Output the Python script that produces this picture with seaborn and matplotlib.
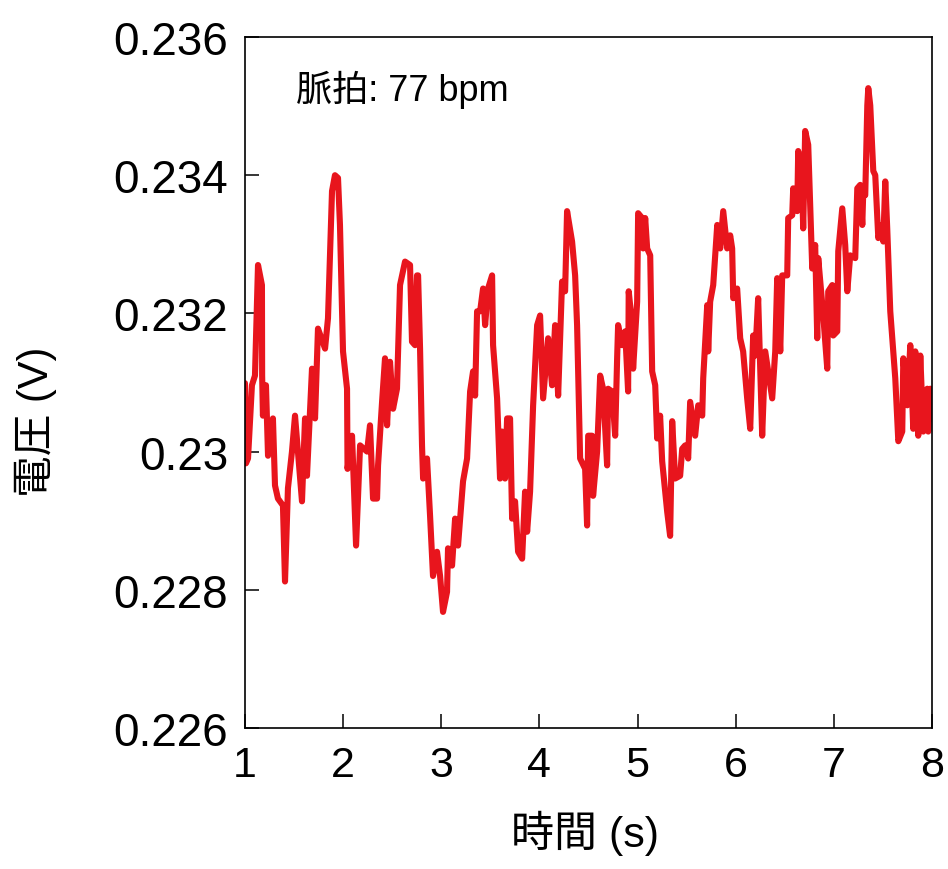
import numpy as np
import pandas as pd
import seaborn as sns
import matplotlib.pyplot as plt

# 読み取った波形 (時間 s, 電圧 V)
time_s = [
    1.000, 1.010, 1.031, 1.071, 1.102, 1.133, 1.173, 1.175, 1.183, 1.214,
    1.235, 1.275, 1.285, 1.306, 1.336, 1.387, 1.408, 1.438, 1.479, 1.510,
    1.581, 1.612, 1.632, 1.683, 1.714, 1.744, 1.816, 1.846, 1.887, 1.917,
    1.948, 1.968, 1.999, 2.040, 2.045, 2.091, 2.132, 2.173, 2.244, 2.274,
    2.305, 2.346, 2.356, 2.397, 2.427, 2.448, 2.478, 2.509, 2.549, 2.580,
    2.631, 2.682, 2.702, 2.733, 2.753, 2.764, 2.784, 2.804, 2.815, 2.855,
    2.886, 2.916, 2.957, 2.988, 3.018, 3.059, 3.069, 3.110, 3.141, 3.171,
    3.222, 3.263, 3.294, 3.324, 3.345, 3.365, 3.396, 3.426, 3.447, 3.477,
    3.518, 3.528, 3.569, 3.599, 3.620, 3.650, 3.671, 3.701, 3.722, 3.752,
    3.783, 3.824, 3.854, 3.875, 3.905, 3.936, 3.977, 4.007, 4.038, 4.089,
    4.129, 4.160, 4.191, 4.231, 4.262, 4.282, 4.333, 4.364, 4.384, 4.415,
    4.466, 4.486, 4.497, 4.537, 4.547, 4.588, 4.619, 4.649, 4.690, 4.700,
    4.741, 4.772, 4.792, 4.802, 4.843, 4.874, 4.904, 4.910, 4.945, 4.955,
    4.996, 5.006, 5.047, 5.057, 5.078, 5.098, 5.129, 5.149, 5.180, 5.200,
    5.230, 5.251, 5.302, 5.332, 5.353, 5.383, 5.434, 5.455, 5.485, 5.516,
    5.536, 5.587, 5.618, 5.659, 5.669, 5.710, 5.720, 5.740, 5.771, 5.812,
    5.842, 5.862, 5.873, 5.913, 5.944, 5.964, 5.975, 6.015, 6.046, 6.076,
    6.117, 6.148, 6.178, 6.199, 6.229, 6.270, 6.301, 6.372, 6.403, 6.423,
    6.454, 6.474, 6.525, 6.535, 6.576, 6.586, 6.627, 6.637, 6.678, 6.688,
    6.708, 6.739, 6.780, 6.810, 6.831, 6.841, 6.892, 6.933, 6.943, 6.984,
    6.994, 7.035, 7.045, 7.086, 7.116, 7.137, 7.167, 7.218, 7.239, 7.269,
    7.290, 7.300, 7.320, 7.341, 7.351, 7.371, 7.402, 7.422, 7.453, 7.493,
    7.504, 7.524, 7.544, 7.575, 7.626, 7.657, 7.697, 7.708, 7.748, 7.779,
    7.809, 7.830, 7.860, 7.881, 7.911, 7.952, 7.962, 7.983, 8.000,
]
voltage_v = [
    0.23099, 0.22983, 0.22990, 0.23096, 0.23110, 0.23270, 0.23241, 0.23110, 0.23052, 0.23096,
    0.22994, 0.23038, 0.23048, 0.22951, 0.22932, 0.22922, 0.22812, 0.22947, 0.23000, 0.23052,
    0.22928, 0.23048, 0.22965, 0.23120, 0.23048, 0.23178, 0.23149, 0.23193, 0.23377, 0.23400,
    0.23396, 0.23328, 0.23145, 0.23091, 0.22975, 0.23023, 0.22864, 0.23009, 0.23000, 0.23038,
    0.22932, 0.22932, 0.22980, 0.23072, 0.23135, 0.23038, 0.23130, 0.23062, 0.23091, 0.23241,
    0.23275, 0.23270, 0.23159, 0.23154, 0.23255, 0.23255, 0.23149, 0.23009, 0.22961, 0.22990,
    0.22907, 0.22820, 0.22855, 0.22820, 0.22768, 0.22797, 0.22860, 0.22835, 0.22903, 0.22864,
    0.22957, 0.22990, 0.23087, 0.23116, 0.23081, 0.23203, 0.23203, 0.23236, 0.23183, 0.23236,
    0.23255, 0.23154, 0.23077, 0.22961, 0.23029, 0.22961, 0.23048, 0.23048, 0.22903, 0.22928,
    0.22855, 0.22845, 0.22942, 0.22884, 0.22942, 0.23067, 0.23183, 0.23197, 0.23077, 0.23164,
    0.23096, 0.23183, 0.23081, 0.23246, 0.23232, 0.23348, 0.23304, 0.23255, 0.23183, 0.22990,
    0.22975, 0.22893, 0.23023, 0.23023, 0.22936, 0.23000, 0.23110, 0.23091, 0.22980, 0.23091,
    0.23087, 0.23023, 0.23135, 0.23183, 0.23154, 0.23174, 0.23087, 0.23232, 0.23183, 0.23120,
    0.23217, 0.23345, 0.23338, 0.23294, 0.23338, 0.23294, 0.23284, 0.23116, 0.23096, 0.23019,
    0.23052, 0.22986, 0.22913, 0.22878, 0.23044, 0.22961, 0.22965, 0.23004, 0.23009, 0.22990,
    0.23072, 0.23023, 0.23067, 0.23052, 0.23106, 0.23212, 0.23145, 0.23217, 0.23241, 0.23328,
    0.23294, 0.23328, 0.23348, 0.23294, 0.23313, 0.23294, 0.23222, 0.23236, 0.23164, 0.23145,
    0.23077, 0.23033, 0.23168, 0.23139, 0.23222, 0.23023, 0.23145, 0.23077, 0.23145, 0.23251,
    0.23145, 0.23255, 0.23255, 0.23338, 0.23342, 0.23381, 0.23348, 0.23435, 0.23377, 0.23323,
    0.23464, 0.23444, 0.23265, 0.23299, 0.23164, 0.23280, 0.23197, 0.23120, 0.23232, 0.23241,
    0.23168, 0.23174, 0.23290, 0.23352, 0.23299, 0.23232, 0.23284, 0.23280, 0.23381, 0.23386,
    0.23328, 0.23377, 0.23371, 0.23501, 0.23526, 0.23501, 0.23406, 0.23400, 0.23309, 0.23328,
    0.23304, 0.23391, 0.23323, 0.23203, 0.23106, 0.23015, 0.23029, 0.23135, 0.23067, 0.23154,
    0.23033, 0.23145, 0.23023, 0.23139, 0.23029, 0.23091, 0.23029, 0.23091, 0.23048,
]
x_ticks = [1, 2, 3, 4, 5, 6, 7, 8]
y_ticks = [0.226, 0.228, 0.23, 0.232, 0.234, 0.236]
y_tick_labels = ["0.226", "0.228", "0.23", "0.232", "0.234", "0.236"]
pulse_text = "脈拍: 77 bpm"

df = pd.DataFrame({"t": time_s, "v": voltage_v})

sns.set_theme(style="white")
plt.rcParams["font.family"] = ["Liberation Sans", "Noto Sans CJK JP", "DejaVu Sans"]
plt.rcParams["text.color"] = "black"
plt.rcParams["axes.labelcolor"] = "black"
plt.rcParams["xtick.color"] = "black"
plt.rcParams["ytick.color"] = "black"

fig = plt.figure(figsize=(9.48, 8.7), dpi=100)
ax = fig.add_axes([0.2584, 0.1621, 0.7247, 0.7942])

sns.lineplot(data=df, x="t", y="v", ax=ax, color="#e8151d", linewidth=4.4,
             estimator=None, sort=False)

ax.set_xlim(1, 8)
ax.set_ylim(0.226, 0.236)
ax.set_xticks(x_ticks)
ax.set_xticklabels([str(t) for t in x_ticks])
ax.set_yticks(y_ticks)
ax.set_yticklabels(y_tick_labels)

# 目盛りは内向き、左と下だけ
ax.tick_params(axis="both", direction="in", length=10, width=1.1, color="black",
               labelcolor="black", bottom=True, left=True, top=False, right=False)
ax.tick_params(axis="y", labelsize=33, pad=12)
ax.tick_params(axis="x", labelsize=31, pad=12)
for s in ax.spines.values():
    s.set_color("black")
    s.set_linewidth(1.2)

ax.set_xlabel("時間 (s)", fontsize=31)
ax.set_ylabel("電圧 (V)", fontsize=30)
ax.xaxis.set_label_coords(0.495, -0.118)
ax.yaxis.set_label_coords(-0.273, 0.444)

ax.text(0.074, 0.925, pulse_text, transform=ax.transAxes, fontsize=26,
        ha="left", va="center", color="black")

fig.savefig("out.png", dpi=100)
